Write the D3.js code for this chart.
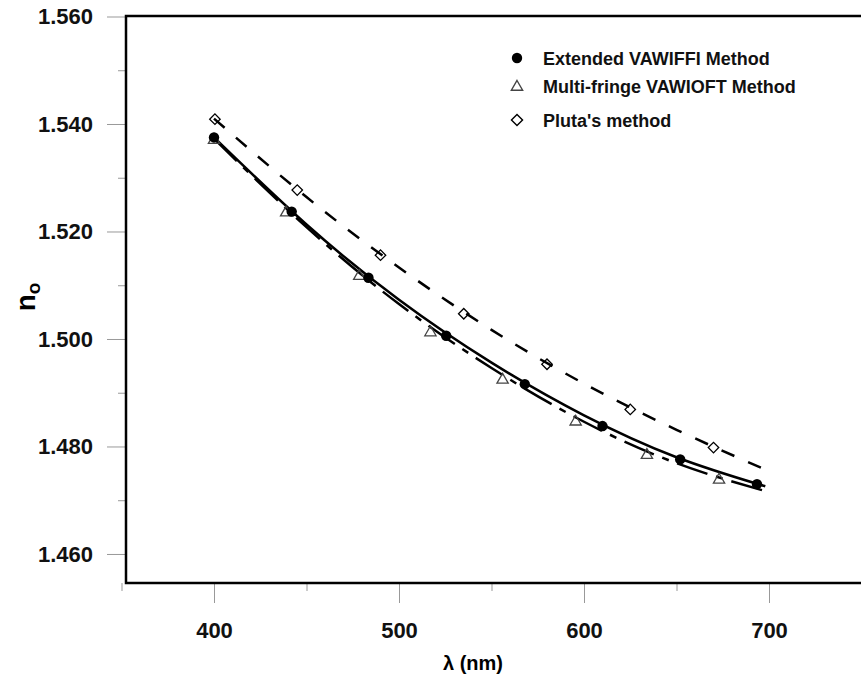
<!DOCTYPE html>
<html>
<head>
<meta charset="utf-8">
<script src="https://cdn.jsdelivr.net/npm/d3@7"></script>
<style>
    body { margin: 0; background: #fff; }
    svg { display: block; font-family: "Liberation Sans", Arial, sans-serif; }
</style>
</head>
<body>
<div id="chart-container"></div>
<script>
// Measured points (wavelength in nm, ordinary index n_o)
const vawiffiLambda = [400, 442, 483.5, 525.5, 568, 610, 652, 693.5];
const vawiffiN = [1.5375, 1.5237, 1.5114, 1.5006, 1.4916, 1.4838, 1.4776, 1.4730];

const multiLambda = [400, 439, 478.5, 517, 556, 595.5, 634, 673];
const multiN = [1.5370, 1.5235, 1.5117, 1.5012, 1.4924, 1.4846, 1.4784, 1.4738];

const plutaLambda = [400.5, 445, 490, 535, 580, 625, 670];
const plutaN = [1.5409, 1.5277, 1.5156, 1.5047, 1.4953, 1.4869, 1.4798];

// Fitted curves
const fitLambda = [400, 450, 500, 550, 600, 650, 698];
const vawiffiFit = [1.5375, 1.5213, 1.5073, 1.4956, 1.4858, 1.4780, 1.4726];
const multiFit = [1.5373, 1.5208, 1.5065, 1.4946, 1.4846, 1.4769, 1.4717];
const plutaFit = [1.5410, 1.5264, 1.5133, 1.5017, 1.4917, 1.4831, 1.4757];

// Axis ticks
const xMajor = [400, 500, 600, 700];
const xMinor = [350, 450, 550, 650, 750];
const yMajor = [1.46, 1.48, 1.50, 1.52, 1.54, 1.56];
const yMinor = [1.47, 1.49, 1.51, 1.53, 1.55];

const legendLabels = ["Extended VAWIFFI Method", "Multi-fringe VAWIOFT Method", "Pluta's method"];

const W = 861, H = 679;
const frame = { left: 126, top: 16, bottom: 583, right: 866 };

const svg = d3.select("#chart-container")
    .append("svg")
    .attr("width", W)
    .attr("height", H);

// Scales
const x = d3.scaleLinear().domain([350, 750]).range([121.5, 861.5]);
const y = d3.scaleLinear().domain([1.4546, 1.560]).range([frame.bottom, 16.5]);

const zip = (xs, ys) => xs.map((v, i) => ({ x: v, y: ys[i] }));

// Y axis (ticks stick out left of the frame)
const yAxis = svg.append("g")
    .attr("transform", `translate(${frame.left},0)`)
    .call(d3.axisLeft(y).tickValues(yMajor).tickSize(19).tickPadding(14)
        .tickFormat(d3.format(".3f")));
yAxis.append("g")
    .call(d3.axisLeft(y).tickValues(yMinor).tickSize(8).tickFormat(""));

// X axis (ticks hang below the frame)
const xAxis = svg.append("g")
    .attr("transform", `translate(0,${frame.bottom})`)
    .call(d3.axisBottom(x).tickValues(xMajor).tickSize(20).tickPadding(19)
        .tickFormat(d3.format("d")));
xAxis.append("g")
    .call(d3.axisBottom(x).tickValues(xMinor).tickSize(8).tickFormat(""));

svg.selectAll(".domain").remove();
svg.selectAll(".tick line").attr("stroke", "#999").attr("stroke-width", 1);
svg.selectAll(".tick text")
    .attr("fill", "#111")
    .style("font-size", "22px")
    .style("font-weight", "bold");

// Plot frame
svg.append("rect")
    .attr("x", frame.left)
    .attr("y", frame.top)
    .attr("width", frame.right - frame.left)
    .attr("height", frame.bottom - frame.top)
    .attr("fill", "none")
    .attr("stroke", "#000")
    .attr("stroke-width", 2.5);

// Axis titles
svg.append("text")
    .attr("x", 473)
    .attr("y", 670)
    .attr("text-anchor", "middle")
    .style("font-size", "20px")
    .style("font-weight", "bold")
    .text("λ (nm)");

const yTitle = svg.append("text")
    .attr("transform", "translate(35,297) rotate(-90)")
    .attr("text-anchor", "middle")
    .style("font-weight", "bold");
yTitle.append("tspan").style("font-size", "28px").text("n");
yTitle.append("tspan").style("font-size", "19px").attr("dy", 5).text("o");

// Fitted lines
const line = d3.line()
    .x((d) => x(d.x))
    .y((d) => y(d.y))
    .curve(d3.curveNatural);

svg.append("path")
    .datum(zip(fitLambda, plutaFit))
    .attr("fill", "none")
    .attr("stroke", "#000")
    .attr("stroke-width", 2.5)
    .attr("stroke-dasharray", "14,15")
    .attr("d", line);

svg.append("path")
    .datum(zip(fitLambda, multiFit))
    .attr("fill", "none")
    .attr("stroke", "#000")
    .attr("stroke-width", 2.5)
    .attr("stroke-dasharray", "32,9,7,9")
    .attr("d", line);

svg.append("path")
    .datum(zip(fitLambda, vawiffiFit))
    .attr("fill", "none")
    .attr("stroke", "#000")
    .attr("stroke-width", 2.5)
    .attr("d", line);

// Markers
const circleSym = d3.symbol().type(d3.symbolCircle).size(85);
const triSym = d3.symbol().type(d3.symbolTriangle).size(55);
const diaSym = d3.symbol().type(d3.symbolSquare).size(55);

svg.selectAll(".tri")
    .data(zip(multiLambda, multiN))
    .enter()
    .append("path")
    .attr("class", "tri")
    .attr("transform", (d) => `translate(${x(d.x)},${y(d.y)})`)
    .attr("d", triSym)
    .attr("fill", "none")
    .attr("stroke", "#444")
    .attr("stroke-width", 1.3);

svg.selectAll(".dia")
    .data(zip(plutaLambda, plutaN))
    .enter()
    .append("path")
    .attr("class", "dia")
    .attr("transform", (d) => `translate(${x(d.x)},${y(d.y)}) rotate(45)`)
    .attr("d", diaSym)
    .attr("fill", "none")
    .attr("stroke", "#000")
    .attr("stroke-width", 1.3);

svg.selectAll(".dot")
    .data(zip(vawiffiLambda, vawiffiN))
    .enter()
    .append("path")
    .attr("class", "dot")
    .attr("transform", (d) => `translate(${x(d.x)},${y(d.y)})`)
    .attr("d", circleSym)
    .attr("fill", "#000");

// Legend
const legendRows = [
    { label: legendLabels[0], my: 58, ty: 65, sym: circleSym, fill: "#000", stroke: "none", rot: 0 },
    { label: legendLabels[1], my: 87, ty: 93, sym: triSym, fill: "none", stroke: "#444", rot: 0 },
    { label: legendLabels[2], my: 120, ty: 127, sym: d3.symbol().type(d3.symbolSquare).size(62), fill: "none", stroke: "#000", rot: 45 }
];

const legend = svg.append("g");
legendRows.forEach((r) => {
    legend.append("path")
        .attr("transform", `translate(517,${r.my}) rotate(${r.rot})`)
        .attr("d", r.sym)
        .attr("fill", r.fill)
        .attr("stroke", r.stroke)
        .attr("stroke-width", 1.4);
    legend.append("text")
        .attr("x", 543)
        .attr("y", r.ty)
        .style("font-size", "18px")
        .style("font-weight", "bold")
        .attr("fill", "#111")
        .text(r.label);
});
</script>
</body>
</html>
